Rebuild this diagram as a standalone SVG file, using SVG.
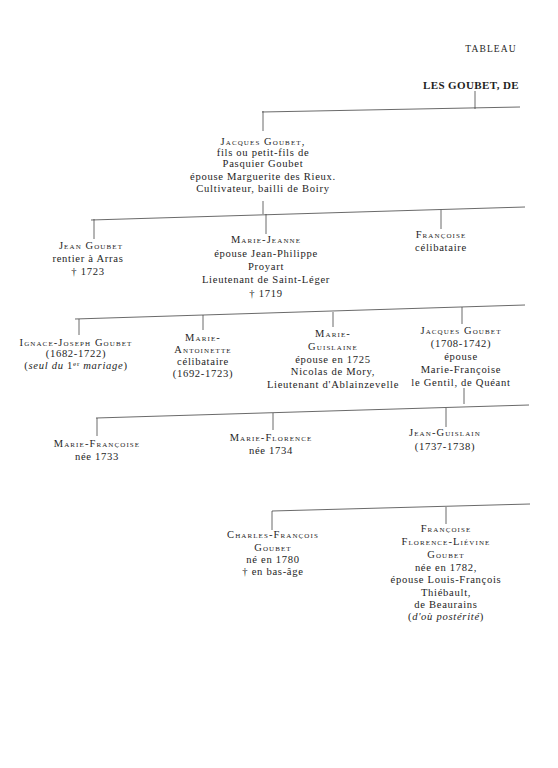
<svg xmlns="http://www.w3.org/2000/svg" width="558" height="768" viewBox="0 0 558 768">
<style>
text{font-family:"Liberation Serif","DejaVu Serif",serif;font-size:10.6px;fill:#1e1e1e;text-anchor:middle}
.sc{font-variant:small-caps;letter-spacing:1.1px;font-size:10.5px}
.t{letter-spacing:1.1px;font-size:9.5px}
.b{font-weight:bold;font-size:11px;letter-spacing:0.4px}
.i{font-style:italic}
.n{letter-spacing:0.7px}
#connectors line{stroke:#444;stroke-width:0.8}
</style>
<rect width="558" height="768" fill="#fff"/>
<text class="t" x="491" y="52">TABLEAU</text>
<text class="b" x="471" y="89">LES GOUBET, DE</text>
<g id="connectors">
<line x1="475" y1="91" x2="475" y2="109"/>
<line x1="262" y1="112" x2="520" y2="107"/>
<line x1="263" y1="111" x2="263" y2="131"/>
<line x1="263" y1="201" x2="263" y2="214"/>
<line x1="91" y1="220" x2="525" y2="207"/>
<line x1="94" y1="219" x2="94" y2="239"/>
<line x1="266" y1="214" x2="266" y2="234"/>
<line x1="441" y1="210" x2="441" y2="229"/>
<line x1="75" y1="319" x2="525" y2="305"/>
<line x1="79" y1="319" x2="79" y2="335"/>
<line x1="203" y1="315" x2="203" y2="330"/>
<line x1="333" y1="312" x2="333" y2="327"/>
<line x1="462" y1="307" x2="462" y2="324"/>
<line x1="464" y1="388" x2="464" y2="404"/>
<line x1="96" y1="418" x2="529" y2="405"/>
<line x1="97" y1="418" x2="97" y2="436"/>
<line x1="273" y1="413" x2="273" y2="430"/>
<line x1="446" y1="408" x2="446" y2="427"/>
<line x1="272" y1="511" x2="530" y2="504"/>
<line x1="272" y1="511" x2="272" y2="530"/>
<line x1="446" y1="507" x2="446" y2="524"/>
</g>
<g id="jacques-goubet-1">
<text class="sc" x="263" y="145">Jacques Goubet,</text>
<text class="n" x="263" y="156">fils ou petit-fils de</text>
<text class="n" x="263" y="167">Pasquier Goubet</text>
<text class="n" x="263" y="180">épouse Marguerite des Rieux.</text>
<text class="n" x="263" y="192">Cultivateur, bailli de Boiry</text>
</g>
<g id="jean-goubet">
<text class="sc" x="91" y="249">Jean Goubet</text>
<text class="n" x="88" y="262">rentier à Arras</text>
<text class="n" x="88" y="275">† 1723</text>
</g>
<g id="marie-jeanne">
<text class="sc" x="266" y="243">Marie-Jeanne</text>
<text class="n" x="266" y="257">épouse Jean-Philippe</text>
<text class="n" x="266" y="270">Proyart</text>
<text class="n" x="266" y="283">Lieutenant de Saint-Léger</text>
<text class="n" x="266" y="297">† 1719</text>
</g>
<g id="francoise-1">
<text class="sc" x="441" y="238">Françoise</text>
<text class="n" x="441" y="251">célibataire</text>
</g>
<g id="ignace-joseph">
<text class="sc" x="76" y="346">Ignace-Joseph Goubet</text>
<text class="n" x="76" y="357">(1682-1722)</text>
<text class="n" x="76" y="369">(<tspan class="i">seul du</tspan> 1<tspan font-size="7" dy="-3">er</tspan><tspan class="i" dy="3"> mariage</tspan>)</text>
</g>
<g id="marie-antoinette">
<text class="sc" x="203" y="341">Marie-</text>
<text class="sc" x="203" y="353">Antoinette</text>
<text class="n" x="203" y="365">célibataire</text>
<text class="n" x="203" y="377">(1692-1723)</text>
</g>
<g id="marie-guislaine">
<text class="sc" x="333" y="337">Marie-</text>
<text class="sc" x="333" y="350">Guislaine</text>
<text class="n" x="333" y="363">épouse en 1725</text>
<text class="n" x="333" y="375">Nicolas de Mory,</text>
<text class="n" x="333" y="388">Lieutenant d'Ablainzevelle</text>
</g>
<g id="jacques-goubet-2">
<text class="sc" x="461" y="334">Jacques Goubet</text>
<text class="n" x="461" y="347">(1708-1742)</text>
<text class="n" x="461" y="360">épouse</text>
<text class="n" x="461" y="373">Marie-Françoise</text>
<text class="n" x="461" y="386">le Gentil, de Quéant</text>
</g>
<g id="marie-francoise">
<text class="sc" x="97" y="447">Marie-Françoise</text>
<text class="n" x="97" y="460">née 1733</text>
</g>
<g id="marie-florence">
<text class="sc" x="271" y="441">Marie-Florence</text>
<text class="n" x="271" y="454">née 1734</text>
</g>
<g id="jean-guislain">
<text class="sc" x="445" y="436">Jean-Guislain</text>
<text class="n" x="445" y="450">(1737-1738)</text>
</g>
<g id="charles-francois">
<text class="sc" x="273" y="538">Charles-François</text>
<text class="sc" x="273" y="551">Goubet</text>
<text class="n" x="273" y="563">né en 1780</text>
<text class="n" x="273" y="575">† en bas-âge</text>
</g>
<g id="francoise-florence-lievine">
<text class="sc" x="446" y="532">Françoise</text>
<text class="sc" x="446" y="545">Florence-Liévine</text>
<text class="sc" x="446" y="558">Goubet</text>
<text class="n" x="446" y="571">née en 1782,</text>
<text class="n" x="446" y="583">épouse Louis-François</text>
<text class="n" x="446" y="596">Thiébault,</text>
<text class="n" x="446" y="608">de Beaurains</text>
<text class="n" x="446" y="620">(<tspan class="i">d'où postérité</tspan>)</text>
</g>
</svg>
